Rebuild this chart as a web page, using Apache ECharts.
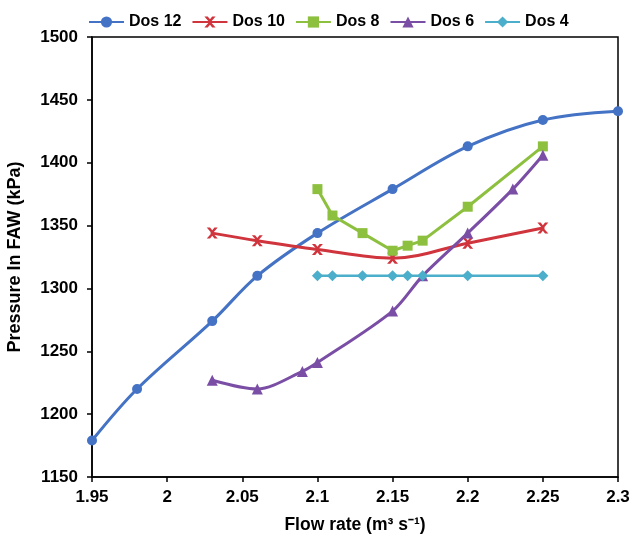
<!DOCTYPE html>
<html>
<head>
<meta charset="utf-8">
<script src="https://cdn.jsdelivr.net/npm/echarts@6/dist/echarts.min.js"></script>
<style>html,body{margin:0;padding:0;background:#fff}#c{width:640px;height:540px}</style>
</head>
<body>
<div id="c"></div>
<script>
var seriesNames = ['Dos 12', 'Dos 10', 'Dos 8', 'Dos 6', 'Dos 4'];
var dos12X = [1.95, 1.98, 2.03, 2.06, 2.10, 2.15, 2.20, 2.25, 2.30];
var dos12Y = [1179, 1220, 1274, 1310, 1344, 1379, 1413, 1434, 1441];
var dos10X = [2.03, 2.06, 2.10, 2.15, 2.20, 2.25];
var dos10Y = [1344, 1338, 1331, 1324, 1336, 1348];
var dos8X = [2.10, 2.11, 2.13, 2.15, 2.16, 2.17, 2.20, 2.25];
var dos8Y = [1379, 1358, 1344, 1330, 1334, 1338, 1365, 1413];
var dos6X = [2.03, 2.06, 2.09, 2.10, 2.15, 2.17, 2.20, 2.23, 2.25];
var dos6Y = [1227, 1220, 1234, 1241, 1282, 1310, 1344, 1379, 1406];
var dos4X = [2.10, 2.11, 2.13, 2.15, 2.16, 2.17, 2.20, 2.25];
var dos4Y = [1310, 1310, 1310, 1310, 1310, 1310, 1310, 1310];

function pairs(xs, ys) { return xs.map(function (x, i) { return [x, ys[i]]; }); }

var xPath = 'path://M0,0 L3,0 L5,2.5 L7,0 L10,0 L6.5,4 L6.5,6 L10,10 L7,10 L5,7.5 L3,10 L0,10 L3.5,6 L3.5,4 Z';
var font = 'Liberation Sans, Arial, sans-serif';

var chart = echarts.init(document.getElementById('c'));
chart.setOption({
  animation: false,
  backgroundColor: '#fff',
  legend: {
    top: 9, left: 83,
    itemWidth: 35, itemHeight: 14, itemGap: 10,
    lineStyle: { width: 2 },
    textStyle: { fontFamily: font, fontWeight: 'bold', fontSize: 16, color: '#000' },
    data: seriesNames
  },
  grid: { left: 92, right: 22, top: 37, bottom: 63, show: true, borderColor: '#000', borderWidth: 1.5,
    outerBoundsMode: 'none', containLabel: false },
  xAxis: {
    type: 'value', min: 1.95, max: 2.3, interval: 0.05,
    name: 'Flow rate (m\u00b3 s\u207b\u00b9)', nameLocation: 'middle', nameGap: 39,
    nameTextStyle: { fontFamily: font, fontWeight: 'bold', fontSize: 17.5, color: '#000' },
    axisLine: { lineStyle: { color: '#000', width: 1.5 } },
    axisTick: { length: 5, lineStyle: { color: '#000', width: 1.5 } },
    axisLabel: { fontFamily: font, fontWeight: 'bold', fontSize: 17, color: '#000', margin: 12 },
    splitLine: { show: false }
  },
  yAxis: {
    type: 'value', min: 1150, max: 1500, interval: 50,
    name: 'Pressure In FAW (kPa)', nameLocation: 'middle', nameGap: 68, nameRotate: 90,
    nameTextStyle: { fontFamily: font, fontWeight: 'bold', fontSize: 18, color: '#000' },
    axisLine: { show: true, lineStyle: { color: '#000', width: 1.5 } },
    axisTick: { show: true, length: 5, lineStyle: { color: '#000', width: 1.5 } },
    axisLabel: { fontFamily: font, fontWeight: 'bold', fontSize: 17, color: '#000', margin: 14,
      formatter: function (v) { return String(v); } },
    splitLine: { show: false }
  },
  series: [
    { name: 'Dos 12', type: 'line', smooth: 0.35, data: pairs(dos12X, dos12Y), symbol: 'circle', symbolSize: 10,
      itemStyle: { color: '#4472C4' }, lineStyle: { color: '#4472C4', width: 3 } },
    { name: 'Dos 10', type: 'line', smooth: 0.35, data: pairs(dos10X, dos10Y), symbol: xPath, symbolSize: 11,
      itemStyle: { color: '#D0343C' }, lineStyle: { color: '#D0343C', width: 3 } },
    { name: 'Dos 8', type: 'line', smooth: false, data: pairs(dos8X, dos8Y), symbol: 'rect', symbolSize: 10,
      itemStyle: { color: '#8DC03F' }, lineStyle: { color: '#8DC03F', width: 3 } },
    { name: 'Dos 6', type: 'line', smooth: 0.3, data: pairs(dos6X, dos6Y), symbol: 'triangle', symbolSize: 11,
      itemStyle: { color: '#7B4EA6' }, lineStyle: { color: '#7B4EA6', width: 3 } },
    { name: 'Dos 4', type: 'line', smooth: false, data: pairs(dos4X, dos4Y), symbol: 'diamond', symbolSize: 11,
      itemStyle: { color: '#4BAECA' }, lineStyle: { color: '#4BAECA', width: 2.5 } }
  ]
});
</script>
</body>
</html>
